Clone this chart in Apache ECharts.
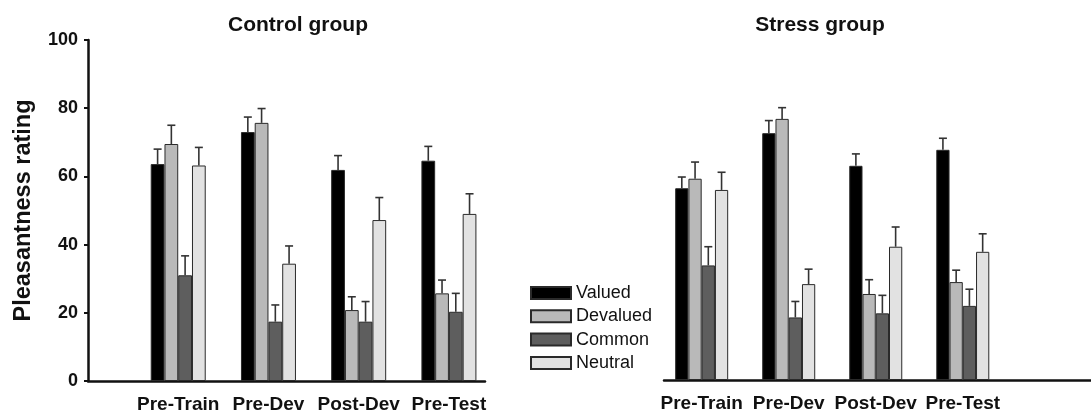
<!DOCTYPE html>
<html>
<head>
<meta charset="utf-8">
<script src="https://cdn.jsdelivr.net/npm/echarts@6/dist/echarts.min.js"></script>
<style>
  html, body { margin: 0; padding: 0; background: #fff; }
  #chart { width: 1091px; height: 414px; }
</style>
</head>
<body>
<div id="chart"></div>
<script>
// ---- data ----
const categories = ['Pre-Train', 'Pre-Dev', 'Post-Dev', 'Pre-Test'];
const seriesNames = ['Valued', 'Devalued', 'Common', 'Neutral'];
const groupTitles = ['Control group', 'Stress group'];
const yTicks = [0, 20, 40, 60, 80, 100];

// Control group means and error (SEM) values
const controlValued   = [63.6, 73.0, 61.9, 64.6];
const controlDevalued = [69.5, 75.7, 20.8, 25.7];
const controlCommon   = [31.0, 17.4, 17.4, 20.3];
const controlNeutral  = [63.2, 34.4, 47.2, 49.0];
const controlValuedErr   = [4.4, 4.4, 4.2, 4.2];
const controlDevaluedErr = [5.5, 4.2, 3.9, 3.9];
const controlCommonErr   = [5.7, 4.9, 5.9, 5.4];
const controlNeutralErr  = [5.3, 5.2, 6.6, 5.9];

// Stress group means and error (SEM) values
const stressValued   = [56.4, 72.6, 63.0, 67.7];
const stressDevalued = [59.2, 76.8, 25.3, 28.8];
const stressCommon   = [33.7, 18.4, 19.6, 21.8];
const stressNeutral  = [55.9, 28.2, 39.2, 37.7];
const stressValuedErr   = [3.3, 3.7, 3.5, 3.4];
const stressDevaluedErr = [4.9, 3.3, 4.2, 3.5];
const stressCommonErr   = [5.5, 4.7, 5.3, 4.9];
const stressNeutralErr  = [5.2, 4.4, 5.8, 5.3];

// ---- styling ----
const FONT = "'Liberation Sans', Arial, Helvetica, sans-serif";
const colors = ['#000000', '#b9b9b9', '#5e5e5e', '#e2e2e2'];
const groupMeans = [
  [controlValued, controlDevalued, controlCommon, controlNeutral],
  [stressValued, stressDevalued, stressCommon, stressNeutral]
];
const groupErrs = [
  [controlValuedErr, controlDevaluedErr, controlCommonErr, controlNeutralErr],
  [stressValuedErr, stressDevaluedErr, stressCommonErr, stressNeutralErr]
];
const barWidths = [13.75, 13.25];

const chart = echarts.init(document.getElementById('chart'), null, { renderer: 'canvas' });

const series = [];
for (let g = 0; g < 2; g++) {
  for (let k = 0; k < 4; k++) {
    series.push({
      type: 'bar',
      name: seriesNames[k],
      xAxisIndex: g,
      yAxisIndex: g,
      barWidth: barWidths[g],
      barGap: '0%',
      itemStyle: { color: colors[k], borderColor: '#2a2a2a', borderWidth: 1 },
      data: categories.map((c, i) => [i + 1, groupMeans[g][k][i]]),
      z: 2
    });
  }
  for (let k = 0; k < 4; k++) {
    const bw = barWidths[g];
    series.push({
      type: 'custom',
      xAxisIndex: g,
      yAxisIndex: g,
      z: 3,
      silent: true,
      data: categories.map((c, i) => [i + 1, groupMeans[g][k][i], groupErrs[g][k][i]]),
      renderItem: function (params, api) {
        const x = api.value(0), y = api.value(1), e = api.value(2);
        const off = (k - 1.5) * bw;
        const p0 = api.coord([x, y]);
        const p1 = api.coord([x, y + e]);
        const cx = p0[0] + off;
        const st = { stroke: '#333333', lineWidth: 1.6 };
        return {
          type: 'group',
          children: [
            { type: 'line', shape: { x1: cx, y1: p0[1], x2: cx, y2: p1[1] }, style: st },
            { type: 'line', shape: { x1: cx - 4, y1: p1[1], x2: cx + 4, y2: p1[1] }, style: st }
          ]
        };
      }
    });
  }
}

const xLabelStyle = {
  customValues: [1, 2, 3, 4],
  formatter: v => categories[Math.round(v) - 1] || '',
  fontFamily: FONT, fontSize: 19, fontWeight: 'bold', color: '#111', margin: 14
};

const option = {
  animation: false,
  backgroundColor: '#ffffff',
  title: [
    { text: groupTitles[0], left: 293, top: 10, textAlign: 'center',
      textStyle: { fontFamily: FONT, fontSize: 21, fontWeight: 'bold', color: '#111' } },
    { text: groupTitles[1], left: 815, top: 10, textAlign: 'center',
      textStyle: { fontFamily: FONT, fontSize: 21, fontWeight: 'bold', color: '#111' } }
  ],
  legend: {
    data: seriesNames,
    orient: 'vertical',
    left: 525,
    top: 279,
    icon: 'rect',
    itemWidth: 40,
    itemHeight: 12,
    itemGap: 5.3,
    textStyle: { fontFamily: FONT, fontSize: 18, color: '#111', lineHeight: 18 }
  },
  grid: [
    { left: 88, top: 40, width: 397, bottom: 33 },
    { left: 664, top: 40, right: 0, bottom: 34 }
  ],
  xAxis: [
    { type: 'value', gridIndex: 0, min: 0, max: 4.4,
      axisLine: { show: true, onZero: false, lineStyle: { color: '#111', width: 2.5 } },
      axisTick: { show: false }, splitLine: { show: false },
      axisLabel: xLabelStyle },
    { type: 'value', gridIndex: 1, min: 0.567, max: 5.473,
      axisLine: { show: true, onZero: false, lineStyle: { color: '#111', width: 2.5 } },
      axisTick: { show: false }, splitLine: { show: false },
      axisLabel: xLabelStyle }
  ],
  yAxis: [
    { type: 'value', gridIndex: 0, min: 0, max: 100, interval: 20,
      name: 'Pleasantness rating', nameLocation: 'middle', nameGap: 52,
      nameTextStyle: { fontFamily: FONT, fontSize: 23.5, fontWeight: 'bold', color: '#111' },
      axisLine: { show: true, lineStyle: { color: '#111', width: 2.5 } },
      axisTick: { show: true, inside: false, length: 4, lineStyle: { color: '#111', width: 2 } },
      splitLine: { show: false },
      axisLabel: { fontFamily: FONT, fontSize: 18, fontWeight: 'bold', color: '#111', margin: 10,
        customValues: yTicks } },
    { type: 'value', gridIndex: 1, min: 0, max: 100, interval: 20, show: false,
      splitLine: { show: false } }
  ],
  series: series
};

chart.setOption(option);
</script>
</body>
</html>
